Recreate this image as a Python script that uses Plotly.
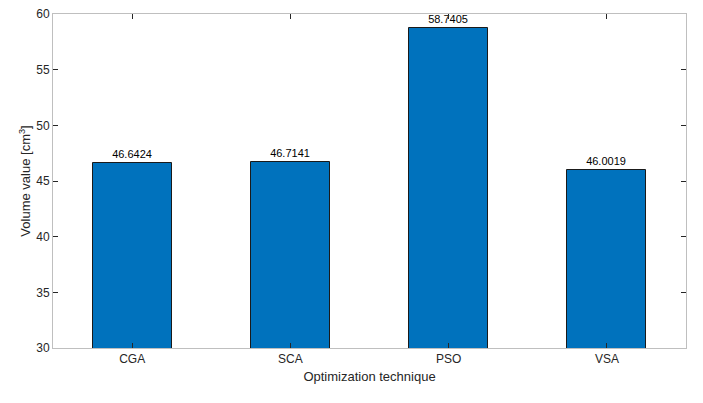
import plotly.graph_objects as go

techniques = ["CGA", "SCA", "PSO", "VSA"]
volumes = [46.6424, 46.7141, 58.7405, 46.0019]
y_ticks = [30, 35, 40, 45, 50, 55, 60]

axis_color = "#bfbfbf"
font_color = "#262626"

fig = go.Figure()
fig.add_trace(go.Bar(
    x=list(range(1, len(techniques) + 1)),
    y=volumes,
    base=0,
    width=0.5,
    marker=dict(color="#0072bd", line=dict(color="#1a1a1a", width=1)),
    text=[f"{v:.4f}" for v in volumes],
    textposition="outside",
    textfont=dict(size=11, color="#000000"),
    cliponaxis=False,
))

fig.update_layout(
    width=703, height=403,
    paper_bgcolor="white", plot_bgcolor="white",
    margin=dict(l=53, r=17, t=14, b=55),
    font=dict(family="Liberation Sans, Arial, sans-serif", size=12, color=font_color),
    showlegend=False,
    bargap=0,
)
fig.update_xaxes(
    range=[0.5, 4.5],
    tickvals=list(range(1, len(techniques) + 1)),
    ticktext=techniques,
    ticks="inside", ticklen=5, tickcolor=font_color,
    showline=True, linecolor=axis_color, mirror="allticks",
    showgrid=False, zeroline=False, automargin=False,
    title=dict(text="Optimization technique", font=dict(size=13), standoff=6),
)
fig.update_yaxes(
    range=[30, 60],
    tickvals=y_ticks,
    ticks="inside", ticklen=5, tickcolor=font_color,
    showline=True, linecolor=axis_color, mirror="allticks",
    showgrid=False, zeroline=False, automargin=False,
    title=dict(text="Volume value [cm<sup>3</sup>]", font=dict(size=13), standoff=2),
)

# drop the page's default body margin so the figure sits at the window corner
fig.write_html("out.html", config={"displayModeBar": False},
               post_script="document.body.style.margin='0';")
